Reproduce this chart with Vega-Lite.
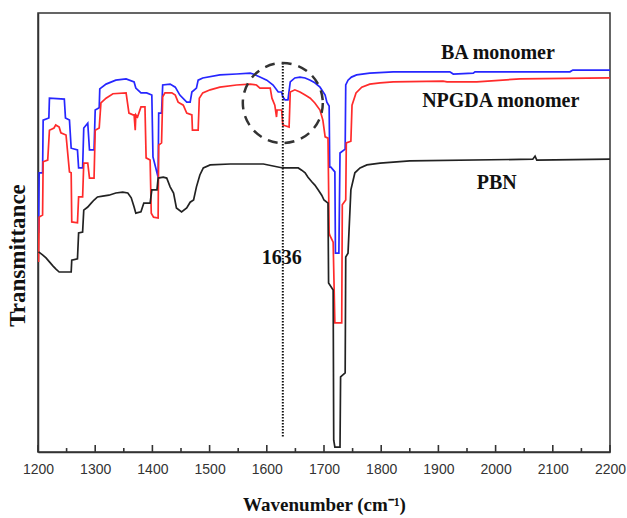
{
  "$schema": "https://vega.github.io/schema/vega-lite/v6.json",
  "width": 572,
  "height": 439,
  "autosize": "none",
  "padding": {"left": 38, "top": 13, "right": 17, "bottom": 66},
  "config": {"view": {"stroke": "#333", "strokeWidth": 1.5}},
  "datasets": {
    "spectra": [
      {"series": "BA monomer", "wavenumber": 1201, "transmittance": 49.9},
      {"series": "BA monomer", "wavenumber": 1202, "transmittance": 63.6},
      {"series": "BA monomer", "wavenumber": 1208, "transmittance": 63.6},
      {"series": "BA monomer", "wavenumber": 1209, "transmittance": 75.6},
      {"series": "BA monomer", "wavenumber": 1219, "transmittance": 76.1},
      {"series": "BA monomer", "wavenumber": 1220, "transmittance": 80.6},
      {"series": "BA monomer", "wavenumber": 1246, "transmittance": 80.4},
      {"series": "BA monomer", "wavenumber": 1248, "transmittance": 76.1},
      {"series": "BA monomer", "wavenumber": 1255, "transmittance": 75.6},
      {"series": "BA monomer", "wavenumber": 1258, "transmittance": 69.2},
      {"series": "BA monomer", "wavenumber": 1269, "transmittance": 68.8},
      {"series": "BA monomer", "wavenumber": 1271, "transmittance": 64.7},
      {"series": "BA monomer", "wavenumber": 1278, "transmittance": 64.7},
      {"series": "BA monomer", "wavenumber": 1280, "transmittance": 73.8},
      {"series": "BA monomer", "wavenumber": 1287, "transmittance": 74.9},
      {"series": "BA monomer", "wavenumber": 1290, "transmittance": 68.8},
      {"series": "BA monomer", "wavenumber": 1298, "transmittance": 68.8},
      {"series": "BA monomer", "wavenumber": 1300, "transmittance": 77.9},
      {"series": "BA monomer", "wavenumber": 1307, "transmittance": 78.4},
      {"series": "BA monomer", "wavenumber": 1308, "transmittance": 82.7},
      {"series": "BA monomer", "wavenumber": 1319, "transmittance": 83.8},
      {"series": "BA monomer", "wavenumber": 1336, "transmittance": 84.7},
      {"series": "BA monomer", "wavenumber": 1354, "transmittance": 85.0},
      {"series": "BA monomer", "wavenumber": 1368, "transmittance": 84.3},
      {"series": "BA monomer", "wavenumber": 1371, "transmittance": 82.9},
      {"series": "BA monomer", "wavenumber": 1380, "transmittance": 81.8},
      {"series": "BA monomer", "wavenumber": 1390, "transmittance": 81.8},
      {"series": "BA monomer", "wavenumber": 1399, "transmittance": 81.3},
      {"series": "BA monomer", "wavenumber": 1401, "transmittance": 67.2},
      {"series": "BA monomer", "wavenumber": 1410, "transmittance": 62.6},
      {"series": "BA monomer", "wavenumber": 1411, "transmittance": 77.2},
      {"series": "BA monomer", "wavenumber": 1416, "transmittance": 77.2},
      {"series": "BA monomer", "wavenumber": 1418, "transmittance": 83.6},
      {"series": "BA monomer", "wavenumber": 1431, "transmittance": 83.8},
      {"series": "BA monomer", "wavenumber": 1440, "transmittance": 83.1},
      {"series": "BA monomer", "wavenumber": 1448, "transmittance": 81.3},
      {"series": "BA monomer", "wavenumber": 1460, "transmittance": 79.7},
      {"series": "BA monomer", "wavenumber": 1466, "transmittance": 79.7},
      {"series": "BA monomer", "wavenumber": 1469, "transmittance": 82.0},
      {"series": "BA monomer", "wavenumber": 1477, "transmittance": 82.9},
      {"series": "BA monomer", "wavenumber": 1480, "transmittance": 84.7},
      {"series": "BA monomer", "wavenumber": 1488, "transmittance": 85.2},
      {"series": "BA monomer", "wavenumber": 1518, "transmittance": 85.9},
      {"series": "BA monomer", "wavenumber": 1547, "transmittance": 86.1},
      {"series": "BA monomer", "wavenumber": 1571, "transmittance": 86.3},
      {"series": "BA monomer", "wavenumber": 1576, "transmittance": 86.1},
      {"series": "BA monomer", "wavenumber": 1588, "transmittance": 85.4},
      {"series": "BA monomer", "wavenumber": 1600, "transmittance": 84.7},
      {"series": "BA monomer", "wavenumber": 1611, "transmittance": 83.6},
      {"series": "BA monomer", "wavenumber": 1620, "transmittance": 82.0},
      {"series": "BA monomer", "wavenumber": 1626, "transmittance": 82.0},
      {"series": "BA monomer", "wavenumber": 1628, "transmittance": 80.9},
      {"series": "BA monomer", "wavenumber": 1632, "transmittance": 80.2},
      {"series": "BA monomer", "wavenumber": 1637, "transmittance": 80.2},
      {"series": "BA monomer", "wavenumber": 1641, "transmittance": 84.3},
      {"series": "BA monomer", "wavenumber": 1649, "transmittance": 85.2},
      {"series": "BA monomer", "wavenumber": 1658, "transmittance": 85.4},
      {"series": "BA monomer", "wavenumber": 1667, "transmittance": 85.2},
      {"series": "BA monomer", "wavenumber": 1676, "transmittance": 84.7},
      {"series": "BA monomer", "wavenumber": 1684, "transmittance": 84.1},
      {"series": "BA monomer", "wavenumber": 1693, "transmittance": 83.1},
      {"series": "BA monomer", "wavenumber": 1702, "transmittance": 81.3},
      {"series": "BA monomer", "wavenumber": 1705, "transmittance": 79.7},
      {"series": "BA monomer", "wavenumber": 1709, "transmittance": 78.8},
      {"series": "BA monomer", "wavenumber": 1710, "transmittance": 64.9},
      {"series": "BA monomer", "wavenumber": 1712, "transmittance": 64.9},
      {"series": "BA monomer", "wavenumber": 1719, "transmittance": 63.8},
      {"series": "BA monomer", "wavenumber": 1720, "transmittance": 45.3},
      {"series": "BA monomer", "wavenumber": 1726, "transmittance": 45.3},
      {"series": "BA monomer", "wavenumber": 1728, "transmittance": 68.1},
      {"series": "BA monomer", "wavenumber": 1737, "transmittance": 69.0},
      {"series": "BA monomer", "wavenumber": 1738, "transmittance": 83.6},
      {"series": "BA monomer", "wavenumber": 1742, "transmittance": 84.7},
      {"series": "BA monomer", "wavenumber": 1748, "transmittance": 85.4},
      {"series": "BA monomer", "wavenumber": 1757, "transmittance": 85.9},
      {"series": "BA monomer", "wavenumber": 1780, "transmittance": 86.3},
      {"series": "BA monomer", "wavenumber": 1821, "transmittance": 86.6},
      {"series": "BA monomer", "wavenumber": 1920, "transmittance": 86.6},
      {"series": "BA monomer", "wavenumber": 1926, "transmittance": 86.1},
      {"series": "BA monomer", "wavenumber": 1961, "transmittance": 86.3},
      {"series": "BA monomer", "wavenumber": 1964, "transmittance": 86.6},
      {"series": "BA monomer", "wavenumber": 2130, "transmittance": 86.6},
      {"series": "BA monomer", "wavenumber": 2135, "transmittance": 87.0},
      {"series": "BA monomer", "wavenumber": 2200, "transmittance": 87.0},

      {"series": "NPGDA monomer", "wavenumber": 1201, "transmittance": 43.3},
      {"series": "NPGDA monomer", "wavenumber": 1202, "transmittance": 53.5},
      {"series": "NPGDA monomer", "wavenumber": 1208, "transmittance": 54.0},
      {"series": "NPGDA monomer", "wavenumber": 1209, "transmittance": 66.1},
      {"series": "NPGDA monomer", "wavenumber": 1217, "transmittance": 66.5},
      {"series": "NPGDA monomer", "wavenumber": 1220, "transmittance": 73.3},
      {"series": "NPGDA monomer", "wavenumber": 1228, "transmittance": 73.8},
      {"series": "NPGDA monomer", "wavenumber": 1231, "transmittance": 74.5},
      {"series": "NPGDA monomer", "wavenumber": 1237, "transmittance": 74.0},
      {"series": "NPGDA monomer", "wavenumber": 1240, "transmittance": 72.7},
      {"series": "NPGDA monomer", "wavenumber": 1249, "transmittance": 72.2},
      {"series": "NPGDA monomer", "wavenumber": 1255, "transmittance": 63.8},
      {"series": "NPGDA monomer", "wavenumber": 1258, "transmittance": 63.6},
      {"series": "NPGDA monomer", "wavenumber": 1259, "transmittance": 52.4},
      {"series": "NPGDA monomer", "wavenumber": 1269, "transmittance": 52.2},
      {"series": "NPGDA monomer", "wavenumber": 1271, "transmittance": 58.1},
      {"series": "NPGDA monomer", "wavenumber": 1278, "transmittance": 58.1},
      {"series": "NPGDA monomer", "wavenumber": 1280, "transmittance": 65.8},
      {"series": "NPGDA monomer", "wavenumber": 1287, "transmittance": 65.8},
      {"series": "NPGDA monomer", "wavenumber": 1290, "transmittance": 62.4},
      {"series": "NPGDA monomer", "wavenumber": 1298, "transmittance": 62.4},
      {"series": "NPGDA monomer", "wavenumber": 1300, "transmittance": 73.3},
      {"series": "NPGDA monomer", "wavenumber": 1307, "transmittance": 73.8},
      {"series": "NPGDA monomer", "wavenumber": 1310, "transmittance": 79.5},
      {"series": "NPGDA monomer", "wavenumber": 1319, "transmittance": 80.6},
      {"series": "NPGDA monomer", "wavenumber": 1331, "transmittance": 81.6},
      {"series": "NPGDA monomer", "wavenumber": 1354, "transmittance": 81.8},
      {"series": "NPGDA monomer", "wavenumber": 1359, "transmittance": 77.2},
      {"series": "NPGDA monomer", "wavenumber": 1366, "transmittance": 76.8},
      {"series": "NPGDA monomer", "wavenumber": 1368, "transmittance": 76.8},
      {"series": "NPGDA monomer", "wavenumber": 1370, "transmittance": 73.3},
      {"series": "NPGDA monomer", "wavenumber": 1371, "transmittance": 76.8},
      {"series": "NPGDA monomer", "wavenumber": 1374, "transmittance": 76.3},
      {"series": "NPGDA monomer", "wavenumber": 1380, "transmittance": 78.6},
      {"series": "NPGDA monomer", "wavenumber": 1387, "transmittance": 78.6},
      {"series": "NPGDA monomer", "wavenumber": 1389, "transmittance": 67.0},
      {"series": "NPGDA monomer", "wavenumber": 1396, "transmittance": 66.5},
      {"series": "NPGDA monomer", "wavenumber": 1398, "transmittance": 54.4},
      {"series": "NPGDA monomer", "wavenumber": 1402, "transmittance": 53.5},
      {"series": "NPGDA monomer", "wavenumber": 1410, "transmittance": 53.3},
      {"series": "NPGDA monomer", "wavenumber": 1411, "transmittance": 69.9},
      {"series": "NPGDA monomer", "wavenumber": 1416, "transmittance": 70.4},
      {"series": "NPGDA monomer", "wavenumber": 1418, "transmittance": 80.9},
      {"series": "NPGDA monomer", "wavenumber": 1422, "transmittance": 81.8},
      {"series": "NPGDA monomer", "wavenumber": 1434, "transmittance": 81.8},
      {"series": "NPGDA monomer", "wavenumber": 1440, "transmittance": 81.3},
      {"series": "NPGDA monomer", "wavenumber": 1445, "transmittance": 79.7},
      {"series": "NPGDA monomer", "wavenumber": 1454, "transmittance": 79.0},
      {"series": "NPGDA monomer", "wavenumber": 1460, "transmittance": 77.2},
      {"series": "NPGDA monomer", "wavenumber": 1469, "transmittance": 76.8},
      {"series": "NPGDA monomer", "wavenumber": 1470, "transmittance": 73.3},
      {"series": "NPGDA monomer", "wavenumber": 1480, "transmittance": 73.3},
      {"series": "NPGDA monomer", "wavenumber": 1482, "transmittance": 80.6},
      {"series": "NPGDA monomer", "wavenumber": 1488, "transmittance": 81.8},
      {"series": "NPGDA monomer", "wavenumber": 1501, "transmittance": 82.5},
      {"series": "NPGDA monomer", "wavenumber": 1518, "transmittance": 83.1},
      {"series": "NPGDA monomer", "wavenumber": 1547, "transmittance": 83.6},
      {"series": "NPGDA monomer", "wavenumber": 1571, "transmittance": 83.8},
      {"series": "NPGDA monomer", "wavenumber": 1582, "transmittance": 83.6},
      {"series": "NPGDA monomer", "wavenumber": 1588, "transmittance": 82.9},
      {"series": "NPGDA monomer", "wavenumber": 1606, "transmittance": 82.9},
      {"series": "NPGDA monomer", "wavenumber": 1609, "transmittance": 80.6},
      {"series": "NPGDA monomer", "wavenumber": 1614, "transmittance": 79.0},
      {"series": "NPGDA monomer", "wavenumber": 1617, "transmittance": 76.3},
      {"series": "NPGDA monomer", "wavenumber": 1618, "transmittance": 77.9},
      {"series": "NPGDA monomer", "wavenumber": 1626, "transmittance": 77.9},
      {"series": "NPGDA monomer", "wavenumber": 1628, "transmittance": 74.5},
      {"series": "NPGDA monomer", "wavenumber": 1639, "transmittance": 74.0},
      {"series": "NPGDA monomer", "wavenumber": 1641, "transmittance": 82.0},
      {"series": "NPGDA monomer", "wavenumber": 1649, "transmittance": 82.5},
      {"series": "NPGDA monomer", "wavenumber": 1658, "transmittance": 82.0},
      {"series": "NPGDA monomer", "wavenumber": 1667, "transmittance": 81.3},
      {"series": "NPGDA monomer", "wavenumber": 1676, "transmittance": 80.6},
      {"series": "NPGDA monomer", "wavenumber": 1684, "transmittance": 79.5},
      {"series": "NPGDA monomer", "wavenumber": 1693, "transmittance": 77.9},
      {"series": "NPGDA monomer", "wavenumber": 1698, "transmittance": 75.6},
      {"series": "NPGDA monomer", "wavenumber": 1702, "transmittance": 71.8},
      {"series": "NPGDA monomer", "wavenumber": 1707, "transmittance": 71.5},
      {"series": "NPGDA monomer", "wavenumber": 1709, "transmittance": 49.9},
      {"series": "NPGDA monomer", "wavenumber": 1710, "transmittance": 49.4},
      {"series": "NPGDA monomer", "wavenumber": 1716, "transmittance": 47.8},
      {"series": "NPGDA monomer", "wavenumber": 1719, "transmittance": 29.4},
      {"series": "NPGDA monomer", "wavenumber": 1731, "transmittance": 29.4},
      {"series": "NPGDA monomer", "wavenumber": 1732, "transmittance": 56.3},
      {"series": "NPGDA monomer", "wavenumber": 1738, "transmittance": 57.4},
      {"series": "NPGDA monomer", "wavenumber": 1739, "transmittance": 70.4},
      {"series": "NPGDA monomer", "wavenumber": 1747, "transmittance": 70.8},
      {"series": "NPGDA monomer", "wavenumber": 1749, "transmittance": 79.0},
      {"series": "NPGDA monomer", "wavenumber": 1756, "transmittance": 81.8},
      {"series": "NPGDA monomer", "wavenumber": 1766, "transmittance": 83.1},
      {"series": "NPGDA monomer", "wavenumber": 1780, "transmittance": 83.8},
      {"series": "NPGDA monomer", "wavenumber": 1798, "transmittance": 84.1},
      {"series": "NPGDA monomer", "wavenumber": 1821, "transmittance": 84.3},
      {"series": "NPGDA monomer", "wavenumber": 1908, "transmittance": 84.5},
      {"series": "NPGDA monomer", "wavenumber": 1915, "transmittance": 84.3},
      {"series": "NPGDA monomer", "wavenumber": 1967, "transmittance": 84.3},
      {"series": "NPGDA monomer", "wavenumber": 2043, "transmittance": 85.0},
      {"series": "NPGDA monomer", "wavenumber": 2200, "transmittance": 85.2},

      {"series": "PBN", "wavenumber": 1201, "transmittance": 45.6},
      {"series": "PBN", "wavenumber": 1208, "transmittance": 44.9},
      {"series": "PBN", "wavenumber": 1214, "transmittance": 44.2},
      {"series": "PBN", "wavenumber": 1220, "transmittance": 43.3},
      {"series": "PBN", "wavenumber": 1226, "transmittance": 42.4},
      {"series": "PBN", "wavenumber": 1231, "transmittance": 41.7},
      {"series": "PBN", "wavenumber": 1237, "transmittance": 41.0},
      {"series": "PBN", "wavenumber": 1258, "transmittance": 41.0},
      {"series": "PBN", "wavenumber": 1259, "transmittance": 43.7},
      {"series": "PBN", "wavenumber": 1269, "transmittance": 44.0},
      {"series": "PBN", "wavenumber": 1271, "transmittance": 49.9},
      {"series": "PBN", "wavenumber": 1278, "transmittance": 50.1},
      {"series": "PBN", "wavenumber": 1280, "transmittance": 55.1},
      {"series": "PBN", "wavenumber": 1287, "transmittance": 55.8},
      {"series": "PBN", "wavenumber": 1293, "transmittance": 56.7},
      {"series": "PBN", "wavenumber": 1298, "transmittance": 57.4},
      {"series": "PBN", "wavenumber": 1304, "transmittance": 58.1},
      {"series": "PBN", "wavenumber": 1313, "transmittance": 58.3},
      {"series": "PBN", "wavenumber": 1324, "transmittance": 58.5},
      {"series": "PBN", "wavenumber": 1336, "transmittance": 59.0},
      {"series": "PBN", "wavenumber": 1348, "transmittance": 59.2},
      {"series": "PBN", "wavenumber": 1357, "transmittance": 59.0},
      {"series": "PBN", "wavenumber": 1363, "transmittance": 57.9},
      {"series": "PBN", "wavenumber": 1368, "transmittance": 55.8},
      {"series": "PBN", "wavenumber": 1371, "transmittance": 54.4},
      {"series": "PBN", "wavenumber": 1380, "transmittance": 54.7},
      {"series": "PBN", "wavenumber": 1385, "transmittance": 56.7},
      {"series": "PBN", "wavenumber": 1396, "transmittance": 56.7},
      {"series": "PBN", "wavenumber": 1399, "transmittance": 59.7},
      {"series": "PBN", "wavenumber": 1408, "transmittance": 59.7},
      {"series": "PBN", "wavenumber": 1410, "transmittance": 62.4},
      {"series": "PBN", "wavenumber": 1419, "transmittance": 62.6},
      {"series": "PBN", "wavenumber": 1425, "transmittance": 62.4},
      {"series": "PBN", "wavenumber": 1431, "transmittance": 60.4},
      {"series": "PBN", "wavenumber": 1437, "transmittance": 59.0},
      {"series": "PBN", "wavenumber": 1442, "transmittance": 55.6},
      {"series": "PBN", "wavenumber": 1451, "transmittance": 54.7},
      {"series": "PBN", "wavenumber": 1460, "transmittance": 55.6},
      {"series": "PBN", "wavenumber": 1466, "transmittance": 56.9},
      {"series": "PBN", "wavenumber": 1472, "transmittance": 57.4},
      {"series": "PBN", "wavenumber": 1477, "transmittance": 60.4},
      {"series": "PBN", "wavenumber": 1483, "transmittance": 63.1},
      {"series": "PBN", "wavenumber": 1489, "transmittance": 64.7},
      {"series": "PBN", "wavenumber": 1501, "transmittance": 65.4},
      {"series": "PBN", "wavenumber": 1536, "transmittance": 65.6},
      {"series": "PBN", "wavenumber": 1594, "transmittance": 65.6},
      {"series": "PBN", "wavenumber": 1628, "transmittance": 64.7},
      {"series": "PBN", "wavenumber": 1655, "transmittance": 64.7},
      {"series": "PBN", "wavenumber": 1661, "transmittance": 64.2},
      {"series": "PBN", "wavenumber": 1667, "transmittance": 63.6},
      {"series": "PBN", "wavenumber": 1672, "transmittance": 62.6},
      {"series": "PBN", "wavenumber": 1679, "transmittance": 61.5},
      {"series": "PBN", "wavenumber": 1684, "transmittance": 60.8},
      {"series": "PBN", "wavenumber": 1690, "transmittance": 59.7},
      {"series": "PBN", "wavenumber": 1696, "transmittance": 58.5},
      {"series": "PBN", "wavenumber": 1700, "transmittance": 57.4},
      {"series": "PBN", "wavenumber": 1707, "transmittance": 56.7},
      {"series": "PBN", "wavenumber": 1708, "transmittance": 38.5},
      {"series": "PBN", "wavenumber": 1716, "transmittance": 36.9},
      {"series": "PBN", "wavenumber": 1717, "transmittance": 2.7},
      {"series": "PBN", "wavenumber": 1719, "transmittance": 1.1},
      {"series": "PBN", "wavenumber": 1728, "transmittance": 1.1},
      {"series": "PBN", "wavenumber": 1729, "transmittance": 17.1},
      {"series": "PBN", "wavenumber": 1737, "transmittance": 18.0},
      {"series": "PBN", "wavenumber": 1738, "transmittance": 44.4},
      {"series": "PBN", "wavenumber": 1742, "transmittance": 45.3},
      {"series": "PBN", "wavenumber": 1747, "transmittance": 59.7},
      {"series": "PBN", "wavenumber": 1754, "transmittance": 63.6},
      {"series": "PBN", "wavenumber": 1763, "transmittance": 64.7},
      {"series": "PBN", "wavenumber": 1775, "transmittance": 65.4},
      {"series": "PBN", "wavenumber": 1798, "transmittance": 65.8},
      {"series": "PBN", "wavenumber": 1850, "transmittance": 66.3},
      {"series": "PBN", "wavenumber": 2065, "transmittance": 66.7},
      {"series": "PBN", "wavenumber": 2069, "transmittance": 67.4},
      {"series": "PBN", "wavenumber": 2072, "transmittance": 66.5},
      {"series": "PBN", "wavenumber": 2200, "transmittance": 66.7}
    ],
    "majorTicks": [
      {"wavenumber": 1200}, {"wavenumber": 1300}, {"wavenumber": 1400}, {"wavenumber": 1500}, {"wavenumber": 1600},
      {"wavenumber": 1700}, {"wavenumber": 1800}, {"wavenumber": 1900}, {"wavenumber": 2000}, {"wavenumber": 2100}, {"wavenumber": 2200}
    ],
    "minorTicks": [
      {"wavenumber": 1250}, {"wavenumber": 1350}, {"wavenumber": 1450}, {"wavenumber": 1550}, {"wavenumber": 1650},
      {"wavenumber": 1750}, {"wavenumber": 1850}, {"wavenumber": 1950}, {"wavenumber": 2050}, {"wavenumber": 2150}
    ],
    "marker": [{"wavenumber": 1628, "top": 88.6, "bottom": 3.2}],
    "circle": [{"wavenumber": 1628, "transmittance": 79.5}],
    "labels": [
      {"text": "BA monomer", "wavenumber": 2004, "transmittance": 90.9},
      {"text": "NPGDA monomer", "wavenumber": 2009, "transmittance": 79.9},
      {"text": "PBN", "wavenumber": 2002, "transmittance": 61.3},
      {"text": "1636", "wavenumber": 1626, "transmittance": 44.2}
    ]
  },
  "layer": [
    {
      "data": {"name": "spectra"},
      "mark": {"type": "line", "strokeWidth": 1.7, "clip": true},
      "encoding": {
        "x": {
          "field": "wavenumber", "type": "quantitative",
          "scale": {"domain": [1200, 2200], "nice": false, "zero": false},
          "axis": {
            "values": [1200,1300,1400,1500,1600,1700,1800,1900,2000,2100,2200],
            "format": "d",
            "grid": false,
            "domainColor": "#333", "domainWidth": 1.5,
            "tickSize": 7, "tickOpacity": 0,
            "labelFont": "Liberation Sans", "labelFontSize": 14, "labelColor": "#333",
            "labelPadding": 3,
            "labelFlush": false,
            "title": "Wavenumber (cm⁻¹)",
            "titleFont": "Liberation Serif", "titleFontSize": 19, "titleFontWeight": "bold", "titleColor": "#111",
            "titleY": 52, "titleBaseline": "middle"
          }
        },
        "y": {
          "field": "transmittance", "type": "quantitative",
          "scale": {"domain": [0, 100], "nice": false, "zero": false},
          "axis": {
            "ticks": false, "labels": false, "grid": false,
            "domainColor": "#333", "domainWidth": 1.5,
            "title": "Transmittance",
            "titleFont": "Liberation Serif", "titleFontSize": 23, "titleFontWeight": "bold", "titleColor": "#111",
            "titleX": -21, "titleY": 242, "titleAngle": -90, "titleAlign": "center", "titleBaseline": "middle"
          }
        },
        "color": {
          "field": "series", "type": "nominal",
          "scale": {"domain": ["BA monomer", "NPGDA monomer", "PBN"], "range": ["#2626ff", "#ff2b2b", "#222222"]},
          "legend": null
        }
      }
    },
    {
      "data": {"name": "majorTicks"},
      "mark": {"type": "rule", "strokeWidth": 1.6, "color": "#333"},
      "encoding": {
        "x": {"field": "wavenumber", "type": "quantitative"},
        "y": {"datum": 0},
        "y2": {"datum": 1.6}
      }
    },
    {
      "data": {"name": "minorTicks"},
      "mark": {"type": "rule", "strokeWidth": 1.6, "color": "#333"},
      "encoding": {
        "x": {"field": "wavenumber", "type": "quantitative"},
        "y": {"datum": 0},
        "y2": {"datum": 0.9}
      }
    },
    {
      "data": {"name": "marker"},
      "mark": {"type": "rule", "strokeDash": [1.5, 1.5], "strokeWidth": 2, "color": "#111"},
      "encoding": {
        "x": {"field": "wavenumber", "type": "quantitative"},
        "y": {"field": "top", "type": "quantitative"},
        "y2": {"field": "bottom"}
      }
    },
    {
      "data": {"name": "circle"},
      "mark": {"type": "point", "shape": "circle", "size": 6400, "filled": false, "stroke": "#333", "strokeWidth": 2.5, "strokeDash": [10, 7], "opacity": 1},
      "encoding": {
        "x": {"field": "wavenumber", "type": "quantitative"},
        "y": {"field": "transmittance", "type": "quantitative"}
      }
    },
    {
      "data": {"name": "labels"},
      "mark": {"type": "text", "font": "Liberation Serif", "fontSize": 20, "fontWeight": "bold", "color": "#111", "align": "center", "baseline": "middle"},
      "encoding": {
        "x": {"field": "wavenumber", "type": "quantitative"},
        "y": {"field": "transmittance", "type": "quantitative"},
        "text": {"field": "text"}
      }
    }
  ]
}
